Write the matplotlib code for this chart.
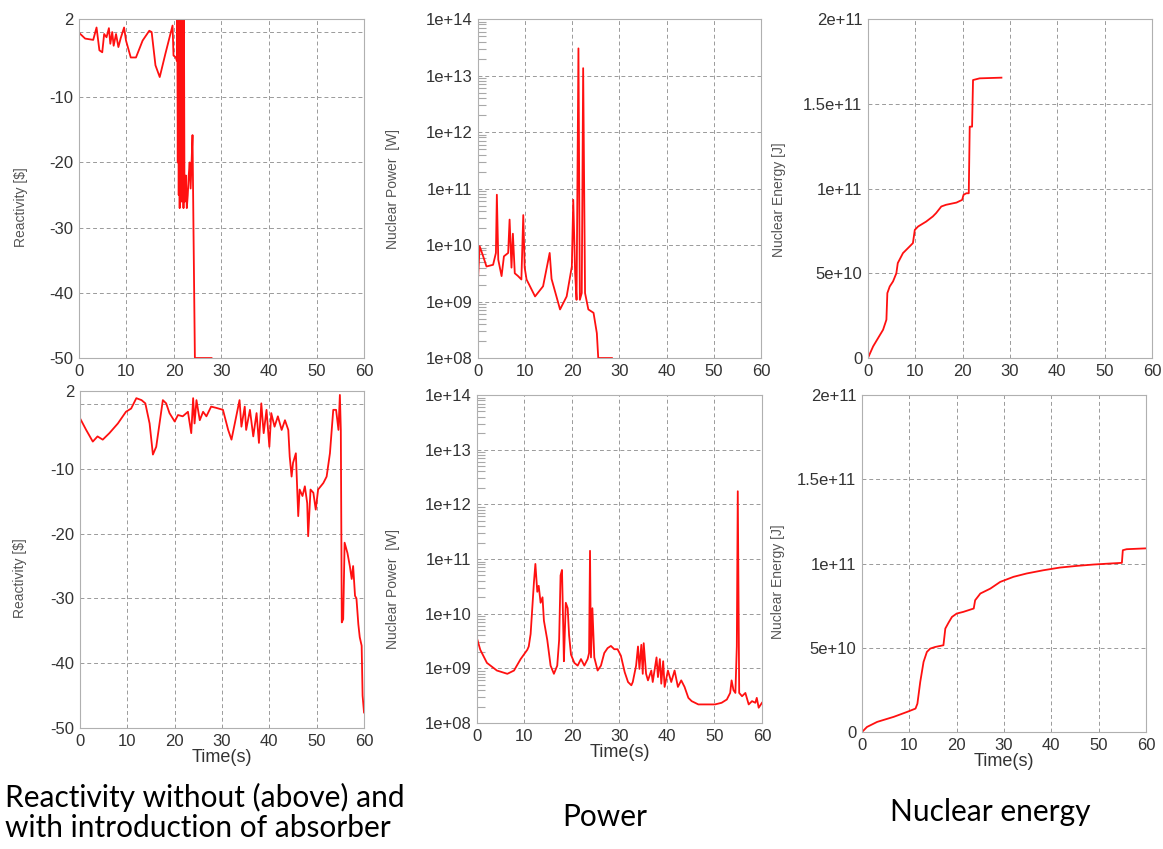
import matplotlib
matplotlib.use("Agg")
import matplotlib.pyplot as plt
import numpy as np

# ---- data ----
# reactivity, without absorber (top)
react_top_t = [0, 1.3, 3.0, 3.7, 4.3, 4.9, 5.3, 5.8, 6.3, 6.6, 7.0, 7.3, 7.8, 8.3, 8.8, 9.5, 9.9,
               10.9, 12.0, 13.4, 14.8, 15.3, 16.1, 17.0, 18.2, 19.7, 19.9, 20.4, 20.6,
               20.7, 20.8, 20.9, 21.0, 21.1, 21.2, 21.3, 21.4, 21.5, 21.6, 21.7, 21.8, 21.9, 22.0,
               22.1, 22.2, 22.3, 22.5, 22.7, 22.9, 23.1, 23.3, 23.5, 23.7, 23.9, 24.1, 24.4, 26.0, 27.9]
react_top_v = [-0.1, -1.0, -1.2, 0.7, -2.8, -3.1, -0.3, -0.8, 0.6, -1.8, 0.0, -2.1, -0.3, -2.3, -0.9, 0.7, -1.3,
               -3.9, -3.9, -1.3, 0.2, 0.0, -5.1, -6.9, -3.3, 1.0, -3.6, -3.9, -4.4,
               2.5, -20, 2.5, -25, 2.5, -27, 2.5, -22, 2.5, -26, 2.5, -24, 2.5, -27,
               2.5, -23, -26, -22, -27, -25, -22, -20, -24, -20, -15.8, -30, -50, -50, -50]

# reactivity, with absorber (bottom)
react_bot_t = [0, 1.3, 2.7, 3.7, 4.8, 6.2, 8.0, 9.7, 10.8, 11.9, 13.0, 13.8, 14.7, 15.4, 16.1, 16.8,
               17.5, 18.2, 18.9, 20.0, 20.7, 21.7, 22.8, 23.5, 23.9, 24.2, 24.6, 25.3, 26.0, 26.7,
               27.7, 28.8, 30.2, 31.3, 32.0, 32.7, 33.7, 34.1, 34.8, 35.1, 35.9, 36.6, 37.3, 37.8,
               38.3, 38.8, 39.4, 40.0, 40.4, 41.1, 41.8, 42.6, 43.3, 44.0, 44.3, 44.7, 45.0, 45.6,
               46.1, 46.4, 47.0, 47.5, 48.0, 48.2, 48.7, 49.3, 49.8, 50.3, 51.4, 52.1, 52.8, 53.5,
               54.1, 54.6, 54.9, 55.1, 55.3, 55.6, 55.9, 56.5, 57.0, 57.4, 57.7, 58.1, 58.4, 58.8,
               59.1, 59.5, 59.7, 60.0]
react_bot_v = [-2.2, -4.0, -5.8, -5.0, -5.5, -4.5, -3.0, -1.2, -0.7, 0.9, 0.6, 0.1, -3.0, -7.8, -6.6, -3.0,
               0.6, 0.1, -1.4, -2.7, -1.7, -1.9, -1.2, -4.5, 0.9, -3.0, 0.6, -2.5, -1.2, -1.9,
               -0.4, -0.6, -0.9, -4.0, -5.5, -3.0, 0.6, -3.5, -0.4, -4.0, -0.9, -5.0, -1.4, -6.0,
               0.1, -4.5, -0.9, -6.6, -1.4, -3.5, -1.9, -4.0, -2.5, -4.0, -8.1, -11.2, -9.1, -7.6,
               -17.3, -13.2, -14.2, -12.7, -15.3, -20.4, -13.2, -13.7, -16.3, -13.2, -12.2, -11.2, -7.6, -0.9,
               -0.9, -4.0, 1.4, -4.0, -33.7, -33.2, -21.4, -23.0, -25.0, -27.0, -25.0, -29.6, -30.0, -34.0,
               -36.0, -37.3, -45.0, -47.6]

# nuclear power, log10 [W] (top)
power_top_t = [0, 0.35, 1.1, 1.8, 3.2, 3.8, 4.0, 4.3, 5.0, 5.5, 6.4, 6.7, 7.1, 7.4, 7.8, 8.5, 9.2,
               9.6, 9.9, 10.3, 12.1, 13.8, 15.2, 15.6, 17.4, 18.8, 19.9, 20.2, 20.6, 20.9, 21.3,
               21.6, 22.0, 22.3, 22.7, 23.4, 24.5, 25.2, 25.5, 28.4]
power_top_log = [9.39, 9.98, 9.8, 9.62, 9.65, 9.86, 10.89, 9.74, 9.45, 9.8, 9.86, 10.45, 9.6, 10.2, 9.5, 9.45, 9.39,
                 10.53, 9.6, 9.39, 9.09, 9.27, 9.86, 9.4, 8.86, 9.09, 9.62, 10.8, 9.5, 9.03, 13.48,
                 9.03, 9.15, 13.13, 9.15, 8.86, 8.8, 8.44, 8.0, 8.0]

# nuclear power, log10 [W] (bottom)
power_bot_t = [0, 0.7, 2.1, 4.2, 6.4, 7.8, 9.2, 10.6, 10.9, 11.3, 12.0, 12.3, 12.7, 13.0, 13.4, 13.8,
               14.1, 14.8, 15.5, 16.2, 16.9, 17.3, 17.6, 17.9, 18.2, 18.3, 18.7, 19.1, 19.4, 19.8,
               20.5, 21.2, 21.9, 22.6, 23.3, 23.6, 23.8, 24.0, 24.3, 24.7, 25.4, 26.1, 26.8, 27.5,
               28.2, 28.9, 29.6, 30.3, 31.1, 31.8, 32.5, 32.8, 33.5, 33.9, 34.2, 34.6, 34.9, 35.1,
               35.6, 36.0, 36.7, 37.0, 37.8, 38.1, 38.5, 38.8, 39.2, 39.5, 40.2, 40.9, 41.6, 42.3,
               43.0, 43.7, 44.5, 45.2, 46.6, 48.0, 50.1, 51.5, 52.6, 53.3, 53.6, 54.0, 54.4, 54.7,
               54.9, 55.2, 55.8, 56.5, 57.2, 57.9, 58.6, 58.9, 59.3, 60.0]
power_bot_log = [9.55, 9.34, 9.1, 8.96, 8.9, 8.96, 9.17, 9.34, 9.4, 9.63, 10.58, 10.91, 10.4, 10.51, 10.2, 10.3,
                 9.87, 9.52, 9.05, 8.9, 9.05, 9.52, 10.7, 10.8, 9.6, 9.13, 10.2, 10.1, 9.6, 9.25,
                 9.1, 9.05, 9.17, 9.05, 9.17, 9.28, 11.15, 9.2, 10.1, 9.2, 8.96, 9.05, 9.28, 9.37,
                 9.41, 9.35, 9.35, 9.23, 8.93, 8.75, 8.69, 8.75, 9.05, 9.4, 8.99, 9.43, 8.9, 9.46,
                 8.9, 8.78, 8.96, 8.75, 9.2, 8.84, 9.17, 8.72, 9.13, 8.66, 8.96, 8.75, 8.96, 8.66,
                 8.78, 8.66, 8.46, 8.4, 8.34, 8.34, 8.34, 8.37, 8.43, 8.55, 8.78, 8.6, 8.55, 9.4,
                 12.24, 8.55, 8.49, 8.55, 8.34, 8.4, 8.37, 8.46, 8.28, 8.37]

# nuclear energy [1e10 J] (top)
energy_top_t = [0, 1.1, 3.2, 3.9, 4.1, 4.6, 5.3, 6.0, 6.3, 7.4, 8.8, 9.5, 9.9, 10.6, 12.3, 13.7, 14.4,
                15.5, 16.5, 18.7, 19.9, 20.2, 20.8, 21.3, 21.5, 22.0, 22.2, 23.6, 28.2]
energy_top_e = [0, 0.69, 1.67, 2.26, 3.83, 4.22, 4.52, 5.0, 5.6, 6.19, 6.58, 6.78, 7.56, 7.76, 8.05, 8.35, 8.55,
                8.94, 9.04, 9.17, 9.33, 9.63, 9.72, 9.72, 13.65, 13.65, 16.4, 16.5, 16.54]

# nuclear energy [1e10 J] (bottom)
energy_bot_t = [0, 1.05, 3.2, 6.7, 9.5, 11.3, 11.7, 12.3, 13.0, 13.7, 14.4, 15.5, 17.2, 17.6, 18.3, 19.0,
                20.0, 21.4, 23.6, 23.9, 25.0, 27.1, 29.2, 32.0, 34.8, 38.3, 41.8, 45.4, 48.9, 52.4,
                54.9, 55.1, 55.9, 60.0]
energy_bot_e = [0, 0.3, 0.6, 0.9, 1.19, 1.39, 1.68, 2.97, 4.16, 4.75, 4.95, 5.05, 5.15, 6.14, 6.5, 6.83,
                7.03, 7.13, 7.33, 7.82, 8.22, 8.51, 8.91, 9.21, 9.41, 9.6, 9.76, 9.86, 9.94, 10.0,
                10.04, 10.79, 10.85, 10.9]

xticks = [0, 10, 20, 30, 40, 50, 60]
react_ticks = [-50, -40, -30, -20, -10, 0, 2]
react_labels = ["-50", "-40", "-30", "-20", "-10", "", "2"]
power_ticks = [1e8, 1e9, 1e10, 1e11, 1e12, 1e13, 1e14]
power_labels = ["1e+08", "1e+09", "1e+10", "1e+11", "1e+12", "1e+13", "1e+14"]
energy_ticks = [0, 5e10, 1e11, 1.5e11, 2e11]
energy_labels = ["0", "5e+10", "1e+11", "1.5e+11", "2e+11"]

plt.rcParams["font.family"] = ["Liberation Sans", "DejaVu Sans"]

fig = plt.figure(figsize=(11.63, 8.49), dpi=100)
fig.patch.set_facecolor("white")

RED = "#ff1010"


def style(ax, yticks, ylabels, ylabel, lx, ly, xlabel=None):
    ax.set_xlim(0, 60)
    ax.set_xticks(xticks)
    ax.set_yticks(yticks)
    ax.set_yticklabels(ylabels)
    ax.grid(True, which="major", color="#9a9a9a", linestyle=(0, (4, 3)), linewidth=0.7)
    ax.tick_params(which="major", labelsize=12, colors="#333333", length=0, pad=4)
    for s in ax.spines.values():
        s.set_color("#b0b0b0")
        s.set_linewidth(0.8)
    ax.set_ylabel(ylabel, fontsize=10, color="#555555")
    ax.yaxis.set_label_coords(lx, ly)
    if xlabel:
        ax.set_xlabel(xlabel, fontsize=13, color="#333333", labelpad=0)


def log_minor(ax):
    minor = [m * 10.0 ** d for d in range(8, 14) for m in range(2, 10)]
    ax.set_yticks(minor, minor=True)
    ax.set_yticklabels([""] * len(minor), minor=True)
    ax.tick_params(axis="y", which="minor", direction="in", length=6, width=0.8,
                   color="#a8a8a8", left=True)


# top-left
ax1 = fig.add_axes([0.0679, 0.5783, 0.2451, 0.3993])
ax1.plot(react_top_t, react_top_v, color=RED, lw=1.3)
ax1.set_ylim(-50, 2)
style(ax1, react_ticks, react_labels, r"Reactivity [\$]", -0.18, 0.445)

# bottom-left
ax2 = fig.add_axes([0.0688, 0.1425, 0.2442, 0.3969])
ax2.plot(react_bot_t, react_bot_v, color=RED, lw=1.3)
ax2.set_ylim(-50, 2)
style(ax2, react_ticks, react_labels, r"Reactivity [\$]", -0.185, 0.445, "Time(s)")

# top-middle
ax3 = fig.add_axes([0.4110, 0.5783, 0.2433, 0.3993])
ax3.plot(power_top_t, 10.0 ** np.array(power_top_log), color=RED, lw=1.3)
ax3.set_yscale("log")
ax3.set_ylim(1e8, 1e14)
style(ax3, power_ticks, power_labels, "Nuclear Power  [W]", -0.274, 0.5)
log_minor(ax3)

# bottom-middle
ax4 = fig.add_axes([0.4101, 0.1484, 0.2451, 0.3863])
ax4.plot(power_bot_t, 10.0 ** np.array(power_bot_log), color=RED, lw=1.3)
ax4.set_yscale("log")
ax4.set_ylim(1e8, 1e14)
style(ax4, power_ticks, power_labels, "Nuclear Power  [W]", -0.27, 0.41, "Time(s)")
log_minor(ax4)

# top-right
ax5 = fig.add_axes([0.7463, 0.5783, 0.2442, 0.3993])
ax5.plot(energy_top_t, np.array(energy_top_e) * 1e10, color=RED, lw=1.3)
ax5.set_ylim(0, 2e11)
style(ax5, energy_ticks, energy_labels, "Nuclear Energy [J]", -0.29, 0.466)

# bottom-right
ax6 = fig.add_axes([0.7412, 0.1378, 0.2442, 0.3969])
ax6.plot(energy_bot_t, np.array(energy_bot_e) * 1e10, color=RED, lw=1.3)
ax6.set_ylim(0, 2e11)
style(ax6, energy_ticks, energy_labels, "Nuclear Energy [J]", -0.27, 0.445, "Time(s)")

# captions
cap = dict(fontsize=21.5, family=["Lato", "DejaVu Sans"], color="black", va="center")
fig.text(5 / 1163, 1 - 797 / 849, "Reactivity without (above) and", ha="left", **cap)
fig.text(5 / 1163, 1 - 828 / 849, "with introduction of absorber", ha="left", **cap)
fig.text(605 / 1163, 1 - 817 / 849, "Power", ha="center", **cap)
fig.text(990 / 1163, 1 - 812 / 849, "Nuclear energy", ha="center", **cap)

plt.savefig("out.png", dpi=100, facecolor="white")
